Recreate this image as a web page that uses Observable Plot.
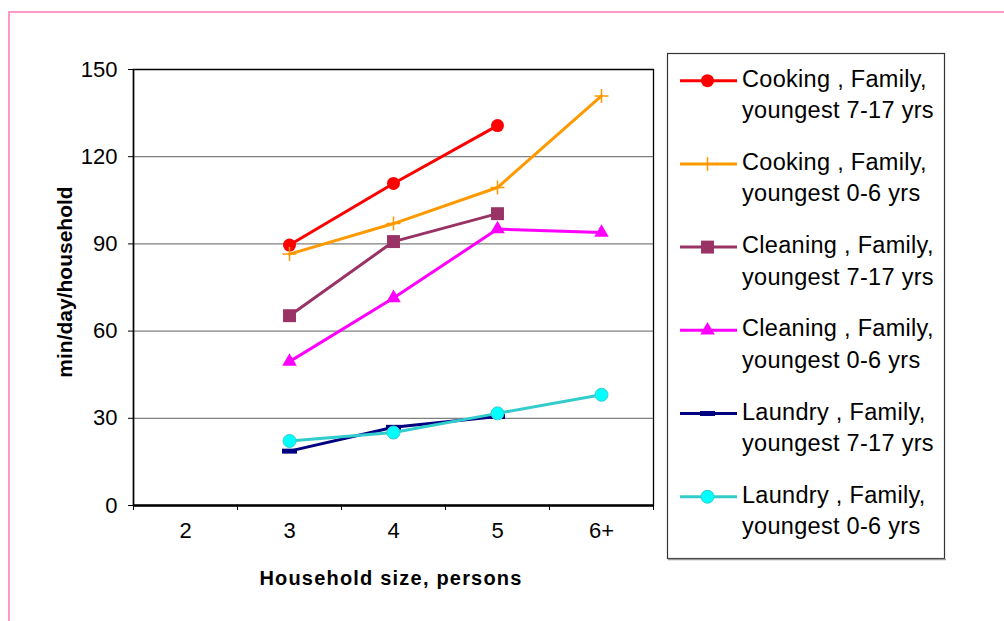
<!DOCTYPE html>
<html><head><meta charset="utf-8">
<script src="https://cdn.jsdelivr.net/npm/d3@7"></script>
<script src="https://cdn.jsdelivr.net/npm/@observablehq/plot@0.6"></script>
<style>
body{margin:0;background:#fff;font-family:"Liberation Sans",Arial,sans-serif;}
#wrap{position:relative;width:1004px;height:621px;overflow:hidden;background:#fff;}
#border{position:absolute;left:8px;top:11px;width:1100px;height:800px;border:2px solid #ff99cc;box-sizing:border-box;}
#chart{position:absolute;left:0;top:0;}
#overlay{position:absolute;left:0;top:0;}
</style></head>
<body>
<div id="wrap"><div id="border"></div><div id="chart"></div><svg id="overlay" width="1004" height="621"></svg></div>
<script>
// ---- data ----
const sizes = ["2", "3", "4", "5", "6+"];
const seriesNames = [
  ["Cooking , Family,", "youngest 7-17 yrs"],
  ["Cooking , Family,", "youngest 0-6 yrs"],
  ["Cleaning , Family,", "youngest 7-17 yrs"],
  ["Cleaning , Family,", "youngest 0-6 yrs"],
  ["Laundry , Family,", "youngest 7-17 yrs"],
  ["Laundry , Family,", "youngest 0-6 yrs"]
];
const cooking717  = [null, 89.6, 110.8, 130.7, null];
const cooking06   = [null, 86.5, 97.0, 109.4, 140.9];
const cleaning717 = [null, 65.3, 90.8, 100.4, null];
const cleaning06  = [null, 49.5, 71.4, 95.1, 93.9];
const laundry717  = [null, 18.7, 26.9, 30.6, null];
const laundry06   = [null, 22.2, 25.1, 31.7, 38.1];
const yTicks = [0, 30, 60, 90, 120, 150];
const xTitle = "Household size, persons";
const yTitle = "min/day/household";

// ---- styles ----
const thinPlus = {draw(ctx, size){const r = Math.sqrt(size/Math.PI); ctx.moveTo(-r,0); ctx.lineTo(r,0); ctx.moveTo(0,-r); ctx.lineTo(0,r);}};
const dash = {draw(ctx, size){const r = Math.sqrt(size/Math.PI); ctx.rect(-r, -r*0.33, 2*r, r*0.66);}};
const styles = [
  {line:"#ff0000", symbol:"circle", r:6.5, fill:"#ff0000", stroke:"none", sw:0},
  {line:"#ff9900", symbol:thinPlus, r:7, fill:"none", stroke:"#ff9900", sw:1.5},
  {line:"#993366", symbol:"square", r:7.3, fill:"#993366", stroke:"none", sw:0},
  {line:"#ff00ff", symbol:"triangle", r:5.4, fill:"#ff00ff", stroke:"none", sw:0},
  {line:"#000080", symbol:dash, r:7.5, fill:"#000080", stroke:"none", sw:0},
  {line:"#33cccc", symbol:"circle", r:6.5, fill:"#00ffff", stroke:"#33cccc", sw:1}
];
const allSeries = [cooking717, cooking06, cleaning717, cleaning06, laundry717, laundry06];
const rows = [];
allSeries.forEach((vals, s) => vals.forEach((v, i) => { if (v != null) rows.push({s, size: sizes[i], i, value: v}); }));
const xPos = d => sizes.indexOf(d.size) + 0.5;

const seriesMarks = [];
styles.forEach((st, s) => {
  const f = d => d.s === s;
  seriesMarks.push(Plot.line(rows, {filter: f, x: xPos, y: "value", stroke: st.line, strokeWidth: 3}));
  seriesMarks.push(Plot.dot(rows, {filter: f, x: xPos, y: "value", symbol: st.symbol, r: st.r, fill: st.fill, stroke: st.stroke, strokeWidth: st.sw}));
});

const chart = Plot.plot({
  width: 1004, height: 621,
  marginLeft: 133, marginRight: 351, marginTop: 69, marginBottom: 116,
  x: {type: "linear", domain: [0, 5]},
  y: {domain: [0, 150]},
  style: {fontFamily: "'Liberation Sans', Arial, sans-serif", fontSize: "22px", color: "#000", background: "transparent", overflow: "visible"},
  marks: [
    Plot.gridY(yTicks.filter(v => v > 0), {stroke: "#808080", strokeOpacity: 1, strokeWidth: 1.3}),
    Plot.frame({stroke: "#000", strokeWidth: 1.3}),
    Plot.axisY(yTicks, {tickSize: 5, tickPadding: 11, label: null, fontSize: 22}),
    Plot.axisX(d3.range(6), {tickSize: 5, tickFormat: () => "", label: null}),
    Plot.axisX(sizes.map((_, i) => i + 0.5), {tickSize: 0, tickPadding: 17, tickFormat: d => sizes[Math.round(d - 0.5)], label: null, fontSize: 22}),
    Plot.ruleY([0], {stroke: "#000", strokeWidth: 2.5}),
    Plot.ruleX([0], {stroke: "#000", strokeWidth: 1.5}),
    ...seriesMarks
  ]
});
document.getElementById("chart").appendChild(chart);

// ---- titles & legend overlay ----
const svg = d3.select("#overlay").style("font-family", "'Liberation Sans', Arial, sans-serif");
svg.append("text").attr("x", 391).attr("y", 585).attr("text-anchor", "middle")
  .attr("font-size", 20).attr("font-weight", "bold").attr("letter-spacing", "1.2px").text(xTitle);
svg.append("text").attr("transform", "translate(72,282) rotate(-90)").attr("text-anchor", "middle")
  .attr("font-size", 21).attr("font-weight", "bold").text(yTitle);

svg.append("rect").attr("x", 667.5).attr("y", 53.5).attr("width", 277).attr("height", 505)
  .attr("fill", "#fff").attr("stroke", "#333").attr("stroke-width", 1.2);
svg.append("line").attr("x1", 668).attr("x2", 946).attr("y1", 559.5).attr("y2", 559.5).attr("stroke", "#999").attr("stroke-width", 1.5);
styles.forEach((st, k) => {
  const ly = 80.7 + 83.2 * k;
  const g = svg.append("g");
  g.append("line").attr("x1", 680).attr("x2", 737).attr("y1", ly).attr("y2", ly).attr("stroke", st.line).attr("stroke-width", 3);
  const sym = typeof st.symbol === "string" ? {circle: d3.symbolCircle, square: d3.symbolSquare, triangle: d3.symbolTriangle}[st.symbol] : st.symbol;
  g.append("path").attr("transform", `translate(707.5,${ly})`)
    .attr("d", d3.symbol(sym, st.r * st.r * Math.PI)())
    .attr("fill", st.fill).attr("stroke", st.stroke).attr("stroke-width", st.sw);
  g.append("text").attr("x", 742).attr("y", ly + 6).attr("font-size", 23.5).attr("letter-spacing", "0.3px").text(seriesNames[k][0]);
  g.append("text").attr("x", 742).attr("y", ly + 37.5).attr("font-size", 23.5).attr("letter-spacing", "0.3px").text(seriesNames[k][1]);
});
</script>
</body></html>
